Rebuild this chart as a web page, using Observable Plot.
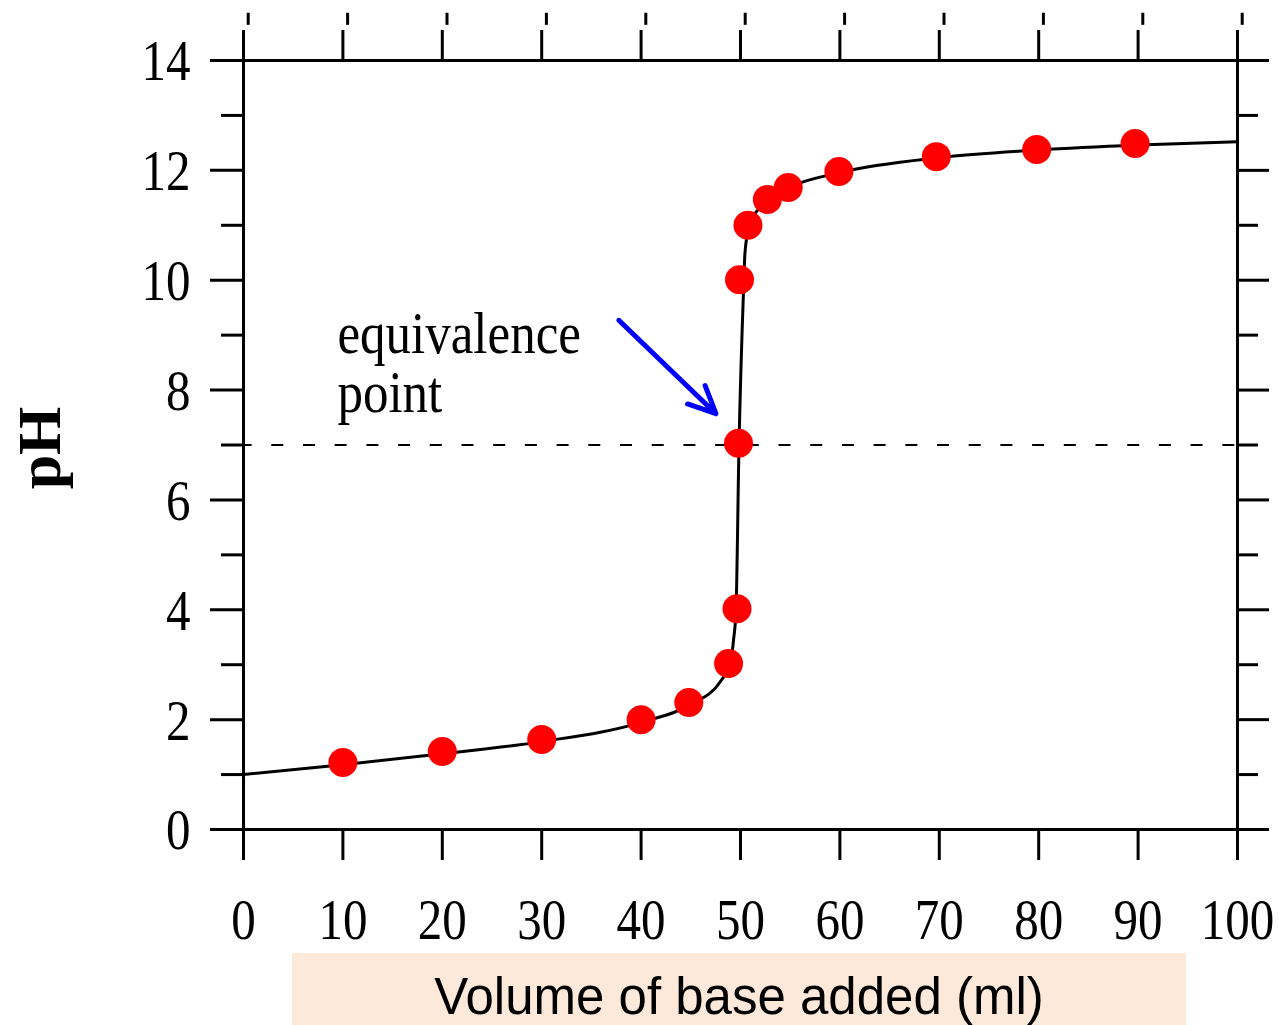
<!DOCTYPE html>
<html>
<head>
<meta charset="utf-8">
<script src="https://cdn.jsdelivr.net/npm/d3@7"></script>
<script src="https://cdn.jsdelivr.net/npm/@observablehq/plot@0.6"></script>
<style>
  html, body { margin: 0; padding: 0; background: #ffffff; overflow: hidden; }
  #chart { position: absolute; left: 0; top: 0; }
  #xlabel {
    position: absolute; left: 292px; top: 953px; width: 894px; height: 72px;
    background: #fde9da; color: #000;
    font-family: "Liberation Sans", Arial, sans-serif; font-size: 51px;
    text-align: center; line-height: 72px;
  }
  #xlabel span { position: relative; top: 8px; }
</style>
</head>
<body>
<div id="chart"></div>
<div id="xlabel"><span>Volume of base added (ml)</span></div>
<script>
// ---- data ----
const xTicks = [0, 10, 20, 30, 40, 50, 60, 70, 80, 90, 100];
const yMajorTicks = [0, 2, 4, 6, 8, 10, 12, 14];
const yMinorTicks = [1, 3, 5, 7, 9, 11, 13];

// measured points (red dots)
const pointVolume = [10, 20, 30, 40, 44.8, 48.8, 49.65, 49.8, 49.9, 50.75, 52.7, 54.8, 59.9, 69.7, 79.8, 89.7];
const pointPH     = [1.22, 1.42, 1.64, 2.0, 2.31, 3.02, 4.02, 7.03, 10.01, 11.0, 11.47, 11.69, 11.98, 12.25, 12.38, 12.49];

// titration curve (black line)
const curveVolume = [0, 10, 20, 30, 40, 45, 48, 49, 49.3, 49.55, 49.85, 50.3, 50.45, 50.9, 52, 53, 55, 60, 70, 80, 90, 100];
const curvePH     = [1.0, 1.18, 1.38, 1.6, 1.95, 2.28, 2.7, 3.05, 3.45, 4.0, 7.0, 9.8, 10.5, 11.0, 11.33, 11.5, 11.7, 11.96, 12.23, 12.37, 12.46, 12.52];

const equivalencePH = [7];
const annotations = [{x: 9.45, y: 8.49, text: "equivalence\npoint"}];
const arrows = [{x1: 37.76, y1: 9.27, x2: 47.53, y2: 7.57}];
const yLabel = "pH";

// ---- build tables ----
const points = pointVolume.map((v, i) => ({x: v, y: pointPH[i]}));
const curve = curveVolume.map((v, i) => ({x: v, y: curvePH[i]}));
const topMarks = xTicks.map(d => ({x: d}));

const blank = () => "";
const serif = "'Liberation Serif', 'Times New Roman', serif";

const svg = Plot.plot({
  width: 1279,
  height: 953,
  marginLeft: 243,
  marginRight: 42,
  marginTop: 60,
  marginBottom: 124,
  style: {fontFamily: serif, background: "#ffffff", color: "#000"},
  x: {domain: [0, 100]},
  y: {domain: [0, 14]},
  marks: [
    // axis ticks (outward on all four sides)
    Plot.axisX({anchor: "bottom", ticks: xTicks, tickSize: 31, strokeWidth: 3, tickFormat: blank, label: null}),
    Plot.axisX({anchor: "top", ticks: xTicks, tickSize: 31, strokeWidth: 3, tickFormat: blank, label: null}),
    Plot.axisY({anchor: "left", ticks: yMajorTicks, tickSize: 33, strokeWidth: 3, tickFormat: blank, label: null}),
    Plot.axisY({anchor: "left", ticks: yMinorTicks, tickSize: 22, strokeWidth: 3, tickFormat: blank, label: null}),
    Plot.axisY({anchor: "right", ticks: yMajorTicks, tickSize: 31, strokeWidth: 3, tickFormat: blank, label: null}),
    Plot.axisY({anchor: "right", ticks: yMinorTicks, tickSize: 20, strokeWidth: 3, tickFormat: blank, label: null}),
    // small marks above the top ticks
    Plot.ruleX(topMarks, {x: "x", y1: 14.64, y2: 14.86, dx: 4.7, strokeWidth: 3, stroke: "#000"}),
    Plot.frame({strokeWidth: 3, stroke: "#000"}),
    // tick labels
    Plot.text(xTicks, {x: d => d, text: d => String(d), frameAnchor: "bottom", lineAnchor: "middle", dy: 91, fontSize: 49, fill: "#000", className: "stretch"}),
    Plot.text(yMajorTicks, {y: d => d, text: d => String(d), frameAnchor: "left", lineAnchor: "middle", dx: -53, dy: 1.5, textAnchor: "end", fontSize: 49, fill: "#000", className: "stretch"}),
    // y axis title
    Plot.text([yLabel], {text: d => d, frameAnchor: "left", textAnchor: "middle", lineAnchor: "middle", dx: -203, dy: 3, rotate: -90, fontSize: 62, fontWeight: "bold", fill: "#000"}),
    // equivalence line
    Plot.ruleY(equivalencePH, {y: d => d, stroke: "#000", strokeWidth: 2, strokeDasharray: "12,19.7", strokeDashoffset: 3.4}),
    // curve and points
    Plot.line(curve, {x: "x", y: "y", curve: "monotone-x", stroke: "#000", strokeWidth: 3}),
    Plot.dot(points, {x: "x", y: "y", r: 14.5, fill: "#ff0000", stroke: "none"}),
    // annotation
    Plot.text(annotations, {x: "x", y: "y", text: "text", textAnchor: "start", lineAnchor: "middle", fontSize: 51, lineHeight: 1, fill: "#000", className: "stretch"}),
    Plot.arrow(arrows, {x1: "x1", y1: "y1", x2: "x2", y2: "y2", stroke: "#0000ff", strokeWidth: 5, headLength: 9, headAngle: 50, bend: 0})
  ]
});

document.getElementById("chart").appendChild(svg);

// serif labels in the reference are vertically stretched; stretch around each text's centre
const k = 1.17;
svg.querySelectorAll("g.stretch text").forEach(t => {
  const bb = t.getBBox();
  const cy = bb.y + bb.height / 2;
  const tr = t.getAttribute("transform") || "";
  t.setAttribute("transform", `${tr} translate(0,${cy}) scale(1,${k}) translate(0,${-cy})`);
});
</script>
</body>
</html>
